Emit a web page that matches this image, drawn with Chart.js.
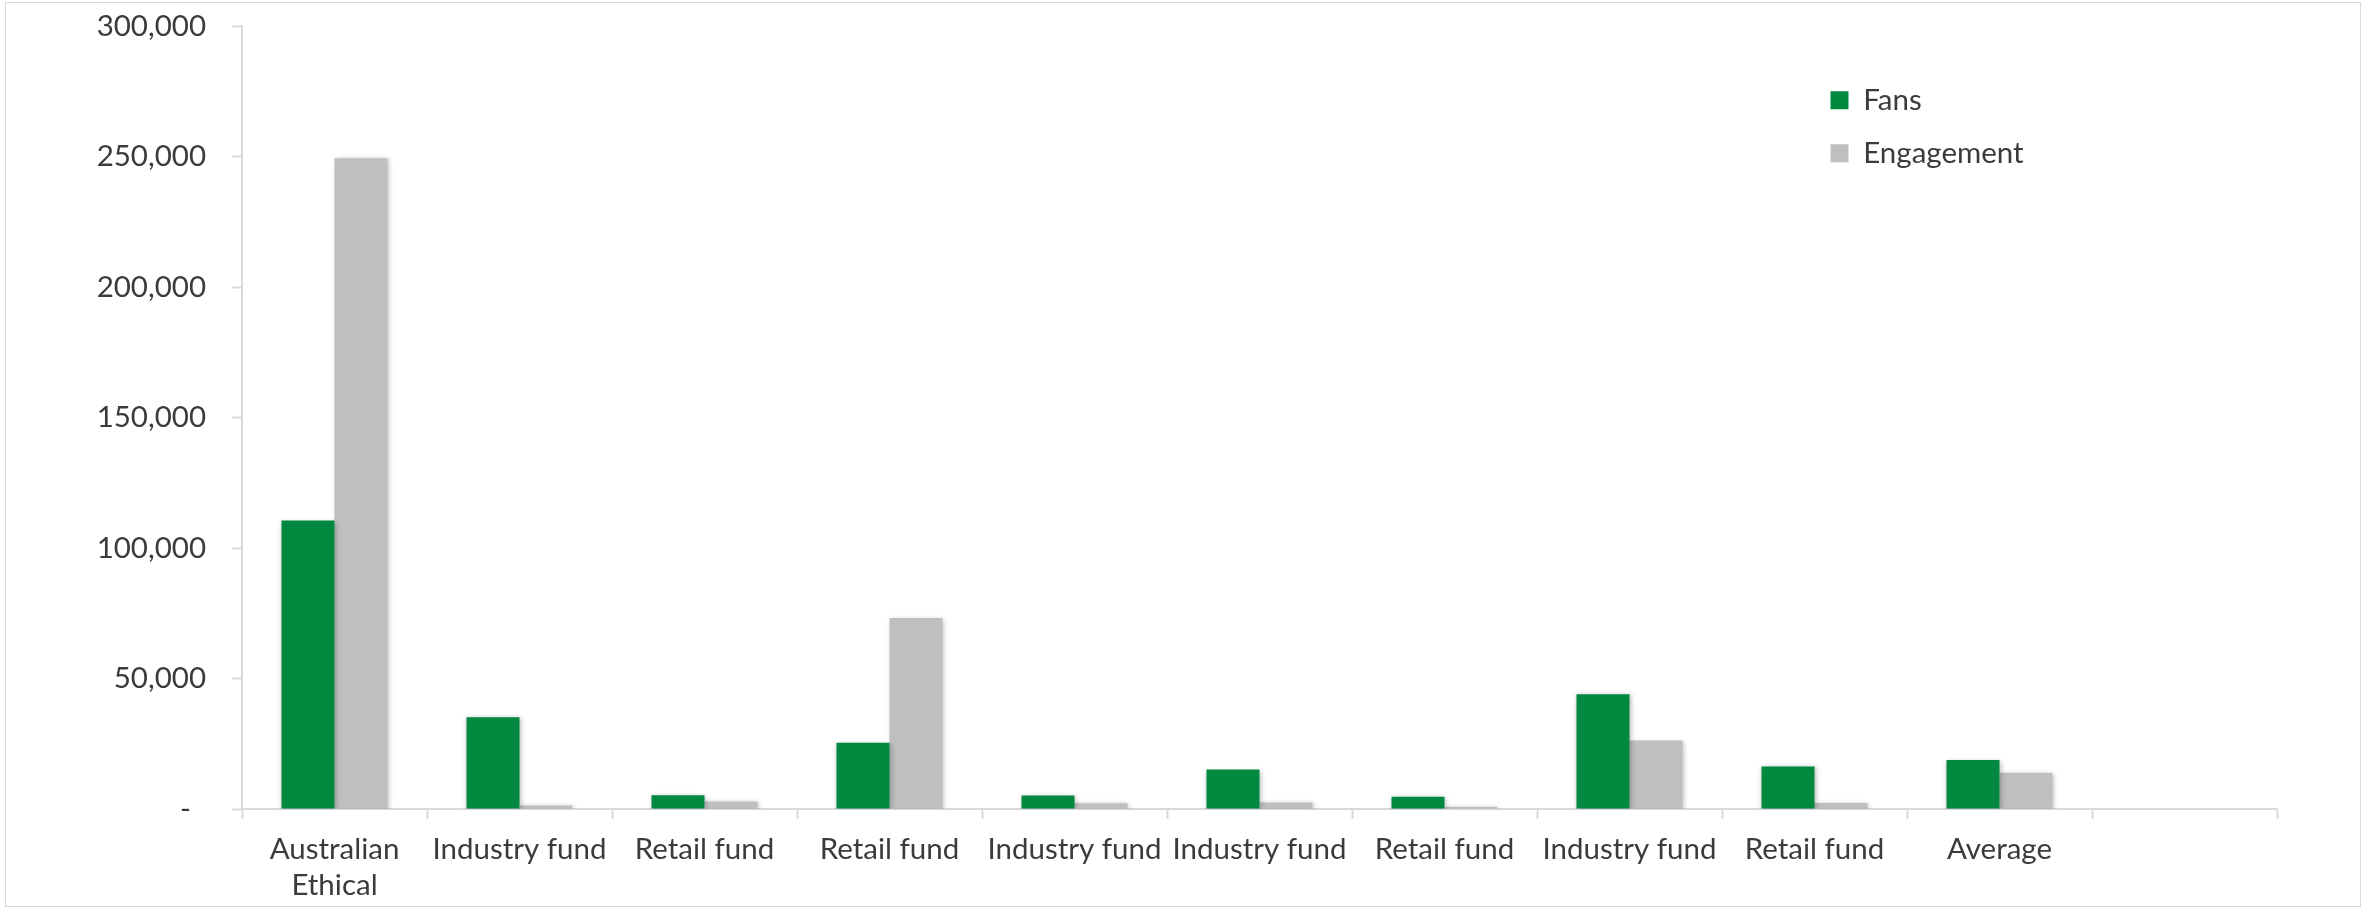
<!DOCTYPE html>
<html>
<head>
<meta charset="utf-8">
<script src="https://cdn.jsdelivr.net/npm/chart.js@4"></script>
<style>
  html, body { margin: 0; padding: 0; background: #fff; }
  #frame {
    position: absolute; left: 5px; top: 2px;
    width: 2356px; height: 905px;
    box-sizing: border-box; border: 1px solid #d9d9d9;
  }
  #fundChart { display: block; }
</style>
</head>
<body>
<div id="frame"><canvas id="fundChart" width="2354" height="903"></canvas></div>
<script>
// values
const categories = [['Australian', 'Ethical'], 'Industry fund', 'Retail fund', 'Retail fund',
    'Industry fund', 'Industry fund', 'Retail fund', 'Industry fund', 'Retail fund', 'Average', ''];
const fans = [110500, 35200, 5300, 25400, 5200, 15100, 4700, 44000, 16300, 18800, null];
const engagement = [249300, 1300, 2900, 73200, 2200, 2500, 900, 26200, 2300, 13900, null];
const yTickLabels = ['-  ', '50,000', '100,000', '150,000', '200,000', '250,000', '300,000'];

const font = { family: "Lato, 'Open Sans', sans-serif", size: 29.5 };
const textColor = '#3b3b3b';
const axisColor = '#d9d9d9';

// soft shadow under the bars, like the original
const barShadow = {
    id: 'barShadow',
    beforeDatasetsDraw(chart) {
        const c = chart.ctx;
        c.save();
        c.shadowColor = 'rgba(0,0,0,0.28)';
        c.shadowBlur = 5;
        c.shadowOffsetX = 1;
        c.shadowOffsetY = 1;
    },
    afterDatasetsDraw(chart) {
        chart.ctx.restore();
    }
};

// put the legend box in the top right of the plot area
const legendSpot = {
    id: 'legendSpot',
    afterLayout(chart) {
        const lg = chart.legend;
        if (!lg) return;
        const w = lg.width, h = lg.height;
        lg.left = chart.chartArea.right - 470;
        lg.top = chart.chartArea.top + 36;
        lg.right = lg.left + w;
        lg.bottom = lg.top + h;
    }
};

const ctx = document.getElementById('fundChart').getContext('2d');
const chart = new Chart(ctx, {
    type: 'bar',
    data: {
        labels: categories,
        datasets: [
            { label: 'Fans', data: fans, backgroundColor: '#00893f', borderWidth: 0 },
            { label: 'Engagement', data: engagement, backgroundColor: '#bfbfbf', borderWidth: 0 }
        ]
    },
    options: {
        responsive: false,
        animation: false,
        layout: { padding: { top: 23, right: 83, bottom: 0, left: 0 } },
        datasets: { bar: { categoryPercentage: 0.573, barPercentage: 1.0 } },
        plugins: {
            tooltip: { enabled: false },
            legend: {
                position: 'chartArea',
                align: 'start',
                labels: {
                    font: font,
                    color: textColor,
                    boxWidth: 18,
                    boxHeight: 18,
                    padding: 23.5
                }
            }
        },
        scales: {
            x: {
                grid: {
                    offset: true,
                    drawOnChartArea: false,
                    drawTicks: true,
                    tickLength: 10,
                    color: axisColor,
                    tickColor: axisColor,
                    tickWidth: 2
                },
                border: { display: true, color: axisColor, width: 2 },
                ticks: {
                    font: { family: font.family, size: 29.5, lineHeight: 1.24 },
                    color: textColor,
                    padding: 12,
                    autoSkip: false,
                    maxRotation: 0,
                    minRotation: 0
                },
                afterFit(scale) { scale.height = 97; }
            },
            y: {
                min: 0,
                max: 300000,
                grid: {
                    drawOnChartArea: false,
                    drawTicks: true,
                    tickLength: 10,
                    color: axisColor,
                    tickColor: axisColor,
                    tickWidth: 2
                },
                border: { display: true, color: axisColor, width: 2 },
                ticks: {
                    stepSize: 50000,
                    font: font,
                    color: textColor,
                    padding: 26,
                    callback: (value, index) => yTickLabels[index]
                },
                afterFit(scale) {
                    scale.width = 236;
                    scale.paddingTop = 0;
                    scale.paddingBottom = 0;
                }
            }
        }
    },
    plugins: [barShadow, legendSpot]
});
</script>
</body>
</html>
